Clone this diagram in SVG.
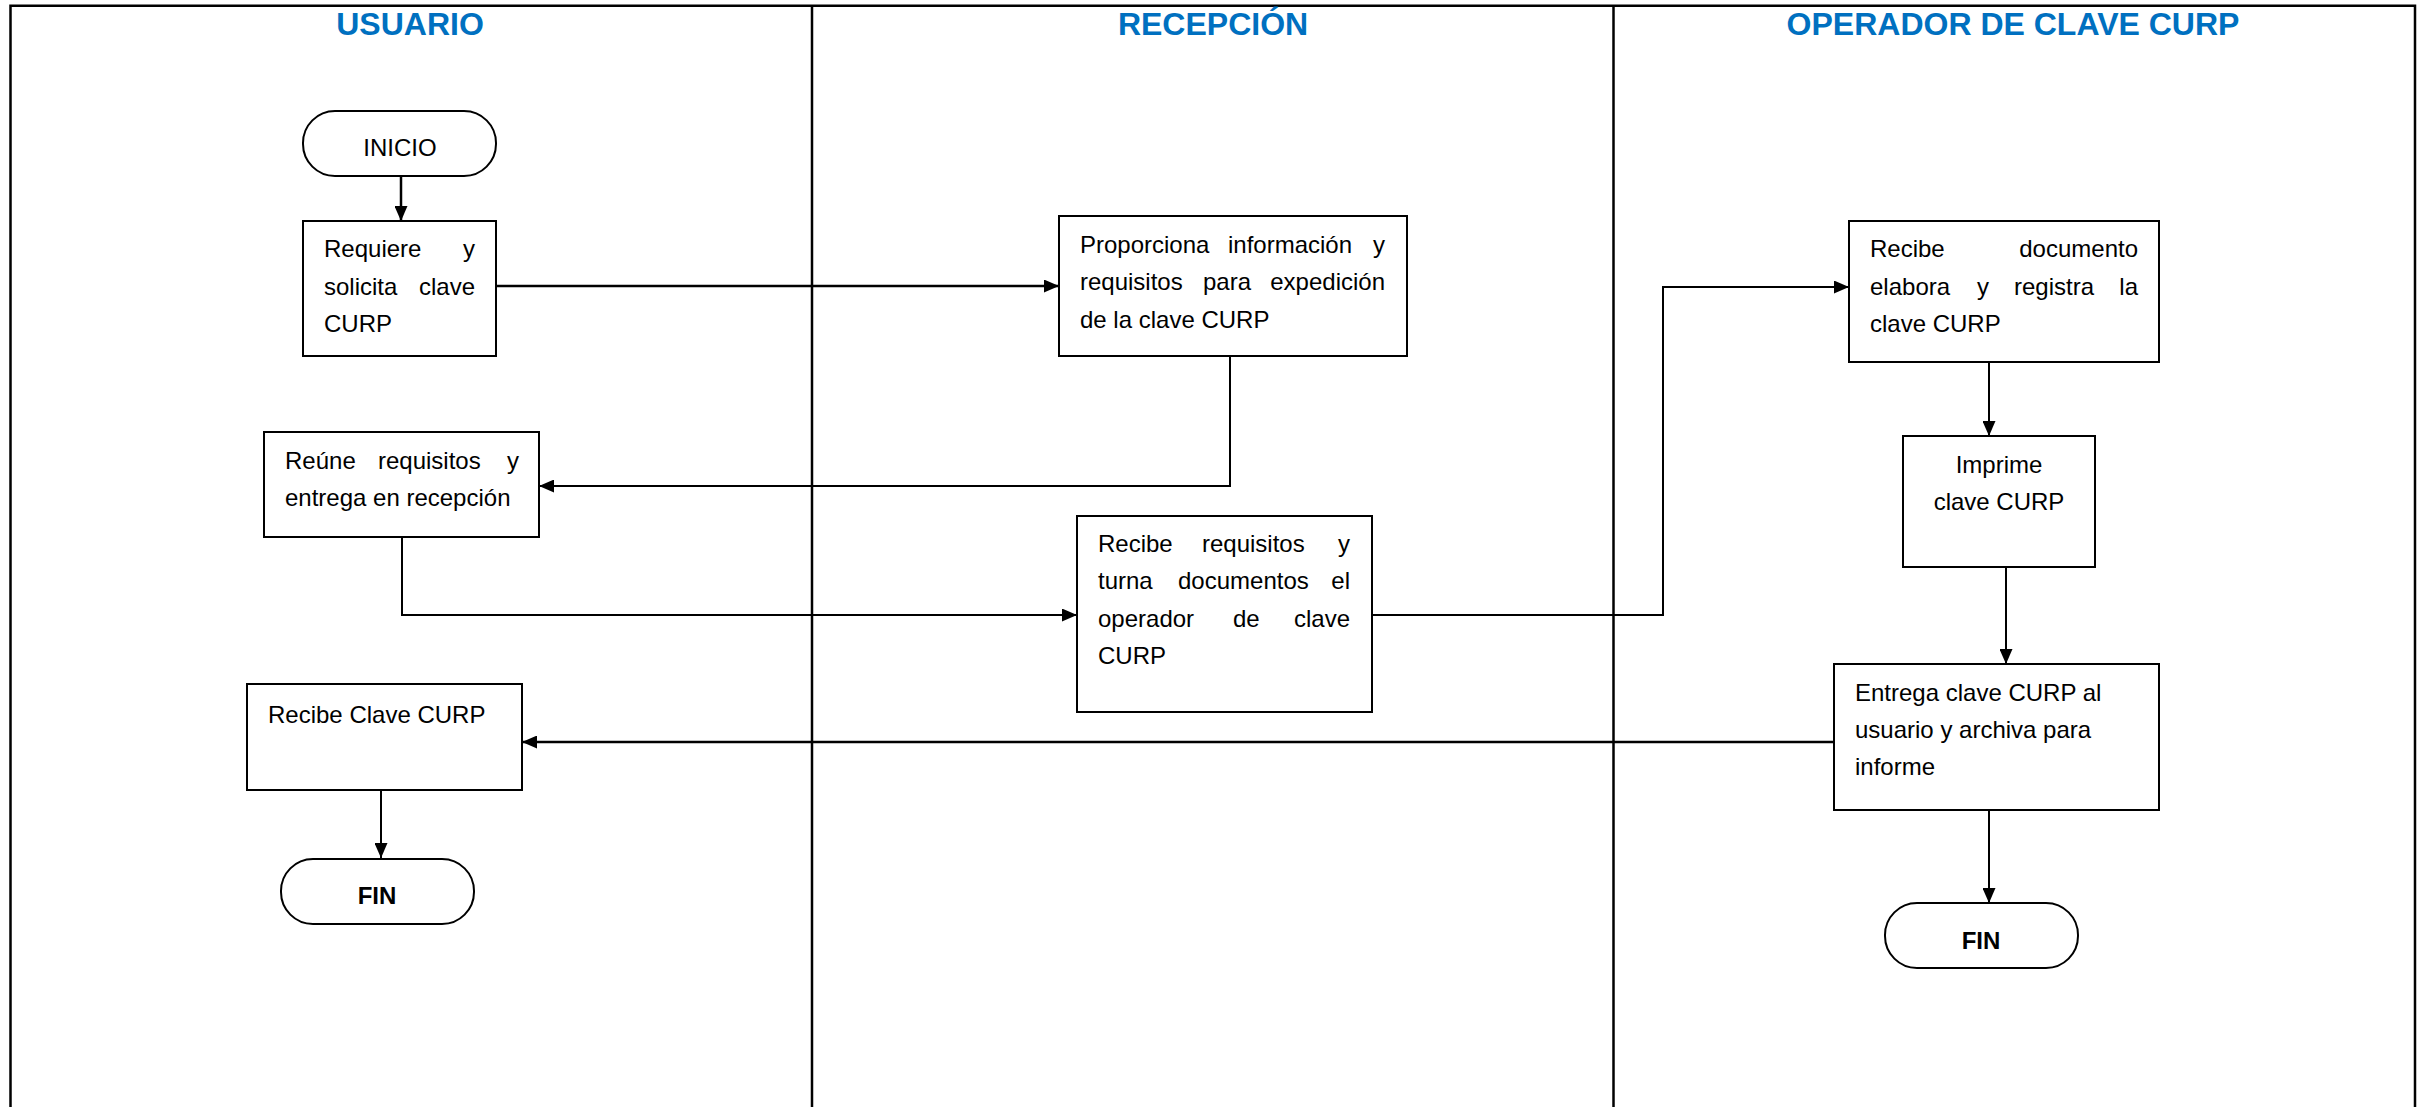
<svg xmlns="http://www.w3.org/2000/svg" width="2427" height="1107" viewBox="0 0 2427 1107">
  <style>
    .frame { fill: none; stroke: #000; stroke-width: 2.5; }
    .lane-title { font-family: "Liberation Sans", Arial, sans-serif; font-weight: bold; font-size: 32px; fill: #0070C0; text-anchor: middle; }
    .box { fill: #fff; stroke: #000; stroke-width: 2; }
    .term { fill: #fff; stroke: #000; stroke-width: 2; }
    .txt { font-family: "Liberation Sans", Arial, sans-serif; font-size: 24px; fill: #000; }
    .end { text-anchor: end; }
    .mid { text-anchor: middle; }
    .bold { font-weight: bold; }
    .conn { fill: none; stroke: #000; stroke-width: 2.5; }
    .conn-thin { fill: none; stroke: #000; stroke-width: 2; }
  </style>
  <defs>
    <marker id="arrow" viewBox="0 0 15 13" refX="15" refY="6.5" markerWidth="15" markerHeight="13" markerUnits="userSpaceOnUse" orient="auto">
      <path d="M0,0 L15,6.5 L0,13 Z" fill="#000"/>
    </marker>
  </defs>

  <rect width="2427" height="1107" fill="#fff"/>

  <!-- swimlane frame, open at the bottom -->
  <g id="lanes">
    <path class="frame" d="M10.5,1110 V5.7 H2415 V1110"/>
    <line class="frame" x1="812" y1="5.7" x2="812" y2="1110" stroke-width="2"/>
    <line class="frame" x1="1613.5" y1="5.7" x2="1613.5" y2="1110" stroke-width="2"/>
    <text class="lane-title" x="410" y="35">USUARIO</text>
    <text class="lane-title" x="1213" y="35">RECEPCIÓN</text>
    <text class="lane-title" x="2013" y="35">OPERADOR DE CLAVE CURP</text>
  </g>

  <!-- connectors -->
  <g id="connectors">
    <path class="conn" d="M401,176 V221" marker-end="url(#arrow)"/>
    <path class="conn" d="M496,286 H1059" marker-end="url(#arrow)"/>
    <path class="conn-thin" d="M1230,356 V486 H539" marker-end="url(#arrow)"/>
    <path class="conn-thin" d="M402,537 V615 H1077" marker-end="url(#arrow)"/>
    <path class="conn-thin" d="M1372,615 H1663 V287 H1849" marker-end="url(#arrow)"/>
    <path class="conn-thin" d="M1989,362 V436" marker-end="url(#arrow)"/>
    <path class="conn-thin" d="M2006,567 V664" marker-end="url(#arrow)"/>
    <path class="conn" d="M1834,742 H522" marker-end="url(#arrow)"/>
    <path class="conn-thin" d="M381,790 V858" marker-end="url(#arrow)"/>
    <path class="conn-thin" d="M1989,810 V903" marker-end="url(#arrow)"/>
  </g>

  <!-- USUARIO lane -->
  <g id="inicio">
    <rect class="term" x="303" y="111" width="193" height="65" rx="32" ry="32"/>
    <text class="txt mid" x="400" y="156">INICIO</text>
  </g>

  <g id="requiere">
    <rect class="box" x="303" y="221" width="193" height="135"/>
    <text class="txt" y="257"><tspan x="324">Requiere</tspan><tspan class="end" x="475">y</tspan></text>
    <text class="txt" y="295"><tspan x="324">solicita</tspan><tspan class="end" x="475">clave</tspan></text>
    <text class="txt" x="324" y="332">CURP</text>
  </g>

  <g id="reune">
    <rect class="box" x="264" y="432" width="275" height="105"/>
    <text class="txt" y="469"><tspan x="285">Reúne</tspan><tspan x="378">requisitos</tspan><tspan class="end" x="519">y</tspan></text>
    <text class="txt" x="285" y="506">entrega en recepción</text>
  </g>

  <g id="recibe-clave">
    <rect class="box" x="247" y="684" width="275" height="106"/>
    <text class="txt" x="268" y="723">Recibe Clave CURP</text>
  </g>

  <g id="fin-usuario">
    <rect class="term" x="281" y="859" width="193" height="65" rx="32" ry="32"/>
    <text class="txt mid bold" x="377" y="904">FIN</text>
  </g>

  <!-- RECEPCIÓN lane -->
  <g id="proporciona">
    <rect class="box" x="1059" y="216" width="348" height="140"/>
    <text class="txt" y="253"><tspan x="1080">Proporciona</tspan><tspan x="1228">información</tspan><tspan class="end" x="1385">y</tspan></text>
    <text class="txt" y="290"><tspan x="1080">requisitos</tspan><tspan x="1203">para</tspan><tspan class="end" x="1385">expedición</tspan></text>
    <text class="txt" x="1080" y="328">de la clave CURP</text>
  </g>

  <g id="recibe-requisitos">
    <rect class="box" x="1077" y="516" width="295" height="196"/>
    <text class="txt" y="552"><tspan x="1098">Recibe</tspan><tspan x="1202">requisitos</tspan><tspan class="end" x="1350">y</tspan></text>
    <text class="txt" y="589"><tspan x="1098">turna</tspan><tspan x="1178">documentos</tspan><tspan class="end" x="1350">el</tspan></text>
    <text class="txt" y="627"><tspan x="1098">operador</tspan><tspan x="1233">de</tspan><tspan class="end" x="1350">clave</tspan></text>
    <text class="txt" x="1098" y="664">CURP</text>
  </g>

  <!-- OPERADOR DE CLAVE CURP lane -->
  <g id="recibe-documento">
    <rect class="box" x="1849" y="221" width="310" height="141"/>
    <text class="txt" y="257"><tspan x="1870">Recibe</tspan><tspan class="end" x="2138">documento</tspan></text>
    <text class="txt" y="295"><tspan x="1870">elabora</tspan><tspan x="1977">y</tspan><tspan x="2014">registra</tspan><tspan class="end" x="2138">la</tspan></text>
    <text class="txt" x="1870" y="332">clave CURP</text>
  </g>

  <g id="imprime">
    <rect class="box" x="1903" y="436" width="192" height="131"/>
    <text class="txt mid" x="1999" y="473">Imprime</text>
    <text class="txt mid" x="1999" y="510">clave CURP</text>
  </g>

  <g id="entrega">
    <rect class="box" x="1834" y="664" width="325" height="146"/>
    <text class="txt" x="1855" y="701">Entrega clave CURP al</text>
    <text class="txt" x="1855" y="738">usuario y archiva para</text>
    <text class="txt" x="1855" y="775">informe</text>
  </g>

  <g id="fin-operador">
    <rect class="term" x="1885" y="903" width="193" height="65" rx="32" ry="32"/>
    <text class="txt mid bold" x="1981" y="949">FIN</text>
  </g>
</svg>
